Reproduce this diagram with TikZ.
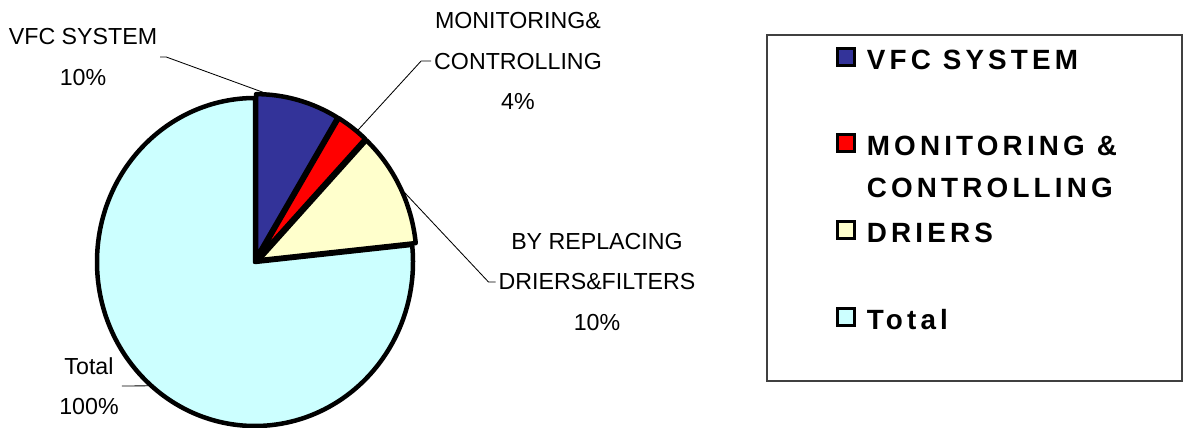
\documentclass[tikz,border=0pt]{standalone}
\usepackage{fontspec}
\setmainfont{Liberation Sans}
\newfontfamily\legendfont{Liberation Sans}[LetterSpace=15]
\usetikzlibrary{calc, positioning}
\definecolor{VFCBlue}{RGB}{51,51,153}
\definecolor{MonRed}{RGB}{255,0,0}
\definecolor{DrierYellow}{RGB}{255,255,204}
\definecolor{TotalCyan}{RGB}{204,255,255}

\begin{document}
\begin{tikzpicture}[x=0.025cm, y=0.025cm,
	slice/.style={draw=black,line width=3.2pt,line join=round},
	leader/.style={draw=black,line width=0.6pt},
	lbl/.style={align=center,inner sep=2pt,font=\fontsize{16.5}{28.5}\selectfont},
	legbox/.style={draw=black!75,line width=0.8pt},
	legkey/.style={draw=black,line width=2.2pt,minimum size=12pt,inner sep=0pt},
	legtxt/.style={inner sep=0pt,anchor=base west,font=\legendfont\bfseries\fontsize{19.8}{30}\selectfont}]
\useasboundingbox (0,0) rectangle (1188,427);
\coordinate (o) at (255,165);
% pie slices (angle from/to, small ones pulled out a bit)
\foreach \a/\b/\c/\d in {90/366/TotalCyan/0, 59/90/VFCBlue/4, 47/59/MonRed/4, 6/47/DrierYellow/4}
	\draw[slice,fill=\c] ($(o)+({(\a+\b)/2}:\d)$) -- ++(\a:158 and 164)
		arc[start angle=\a,end angle=\b,x radius=158,y radius=164] -- cycle;
% where the leaders touch the pie
\coordinate (vfc-tip) at ($(o)+(74.5:4)+(85:158 and 164)$);
\coordinate (mon-tip) at ($(o)+(53:4)+(51:158 and 164)$);
\coordinate (dri-tip) at ($(o)+(26.5:4)+(26:158 and 164)$);
\coordinate (tot-tip) at ($(o)+(229:158 and 164)$);
% data labels
\node[lbl] (vfc-lbl) at (83,370) {VFC SYSTEM\\10\%};
\node[lbl] (mon-lbl) at (518,366) {MONITORING\&\\CONTROLLING\\4\%};
\node[lbl] (dri-lbl) at (597,145) {BY REPLACING\\DRIERS\&FILTERS\\10\%};
\node[lbl] (tot-lbl) at (89,41) {Total\\100\%};
\draw[leader] (vfc-lbl.east) -- ++(6,0) -- (vfc-tip);
\draw[leader] (mon-lbl.west) -- ++(-10,0) -- (mon-tip);
\draw[leader] (dri-lbl.west) -- ++(-7,0) -- (dri-tip);
\draw[leader] (tot-lbl.east) -- ++(4,0) -- (tot-tip);
% legend
\draw[legbox] (767,392) rectangle (1182,46);
\foreach \n/\c/\y/\t in {vfc/VFCBlue/370/VFC SYSTEM, mon/MonRed/284/MONITORING \&,
		dri/DrierYellow/197/DRIERS, tot/TotalCyan/110/Total}{
	\node[legkey,fill=\c] (key-\n) at (846,\y) {};
	\node[legtxt] (txt-\n) at ([xshift=7.5pt,yshift=-1.5pt]key-\n.south east) {\t};
}
\node[legtxt] (txt-mon2) at ([yshift=-30.5pt]txt-mon.base west) {CONTROLLING};
\end{tikzpicture}
\end{document}
